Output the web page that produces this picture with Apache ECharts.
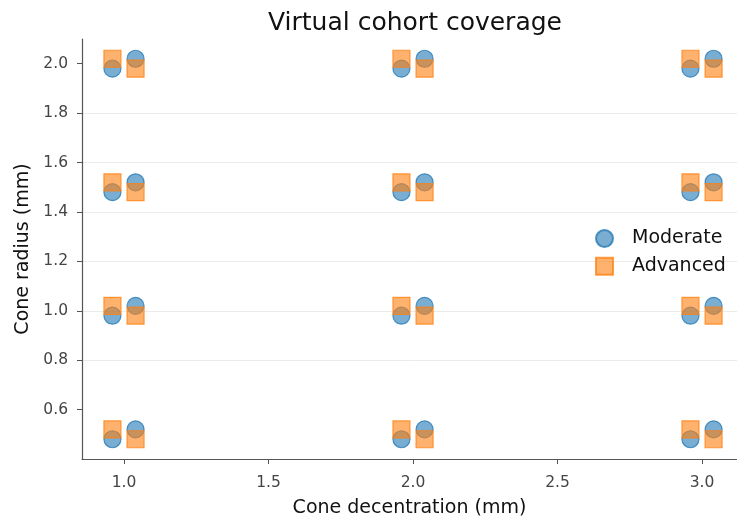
<!DOCTYPE html>
<html>
<head>
<meta charset="utf-8">
<script src="https://cdn.jsdelivr.net/npm/echarts@6/dist/echarts.min.js"></script>
<style>html,body{margin:0;padding:0;background:#fff}#c{width:737px;height:523px}</style>
</head>
<body>
<div id="c"></div>
<script>
const titleText = 'Virtual cohort coverage';
const xTitle = 'Cone decentration (mm)';
const yTitle = 'Cone radius (mm)';
const seriesNames = ['Moderate', 'Advanced'];
const xTicks = [1.0, 1.5, 2.0, 2.5, 3.0];
const yTicks = [0.6, 0.8, 1.0, 1.2, 1.4, 1.6, 1.8, 2.0];
const moderateX = [0.96, 1.04, 1.96, 2.04, 2.96, 3.04, 0.96, 1.04, 1.96, 2.04, 2.96, 3.04, 0.96, 1.04, 1.96, 2.04, 2.96, 3.04, 0.96, 1.04, 1.96, 2.04, 2.96, 3.04];
const moderateY = [0.48, 0.52, 0.48, 0.52, 0.48, 0.52, 0.98, 1.02, 0.98, 1.02, 0.98, 1.02, 1.48, 1.52, 1.48, 1.52, 1.48, 1.52, 1.98, 2.02, 1.98, 2.02, 1.98, 2.02];
const advancedX = [0.96, 1.04, 1.96, 2.04, 2.96, 3.04, 0.96, 1.04, 1.96, 2.04, 2.96, 3.04, 0.96, 1.04, 1.96, 2.04, 2.96, 3.04, 0.96, 1.04, 1.96, 2.04, 2.96, 3.04];
const advancedY = [0.52, 0.48, 0.52, 0.48, 0.52, 0.48, 1.02, 0.98, 1.02, 0.98, 1.02, 0.98, 1.52, 1.48, 1.52, 1.48, 1.52, 1.48, 2.02, 1.98, 2.02, 1.98, 2.02, 1.98];

const zip = (xs, ys) => xs.map((x, i) => [x, ys[i]]);
const FONT = 'DejaVu Sans';
const chart = echarts.init(document.getElementById('c'), null, {renderer: 'canvas'});
chart.setOption({
  animation: false,
  backgroundColor: '#fff',
  title: {
    text: titleText, left: 410, top: 6, textAlign: 'center',
    textStyle: {fontFamily: FONT, fontSize: 25, fontWeight: 'normal', color: '#111'}
  },
  legend: {
    left: 590, top: 224, orient: 'vertical', itemWidth: 17, itemHeight: 17, itemGap: 8.8,
    data: [{name: seriesNames[0], icon: 'circle'}, {name: seriesNames[1], icon: 'rect'}],
    textStyle: {fontFamily: FONT, fontSize: 19, color: '#111', padding: [0, 0, 0, 14]}
  },
  grid: {left: 82, right: 0, top: 39, bottom: 60},
  xAxis: {
    type: 'value', min: 0.8547, max: 3.121,
    name: xTitle, nameLocation: 'middle', nameGap: 40,
    nameTextStyle: {fontFamily: FONT, fontSize: 19, color: '#111'},
    axisLine: {show: true, lineStyle: {color: '#555', width: 1.2}},
    axisTick: {show: true, length: 5, lineStyle: {color: '#555'}, customValues: xTicks},
    axisLabel: {fontFamily: FONT, fontSize: 15.5, color: '#444', margin: 16, customValues: xTicks,
      formatter: v => v.toFixed(1)},
    splitLine: {show: false}
  },
  yAxis: {
    type: 'value', min: 0.4, max: 2.1, interval: 0.2,
    name: yTitle, nameLocation: 'middle', nameGap: 48,
    nameTextStyle: {fontFamily: FONT, fontSize: 19, color: '#111'},
    axisLine: {show: true, lineStyle: {color: '#555', width: 1.2}},
    axisTick: {show: true, length: 5, lineStyle: {color: '#555'}, customValues: yTicks},
    axisLabel: {fontFamily: FONT, fontSize: 15.5, color: '#444', margin: 14, customValues: yTicks,
      formatter: v => v.toFixed(1)},
    splitLine: {show: true, showMinLine: false, showMaxLine: false, lineStyle: {color: '#ebebeb', width: 1}}
  },
  series: [
    {
      name: seriesNames[0], type: 'scatter', symbol: 'circle', symbolSize: 17,
      data: zip(moderateX, moderateY),
      itemStyle: {color: 'rgba(31,119,180,0.75)', borderColor: 'rgba(31,119,180,0.95)', borderWidth: 1.2}
    },
    {
      name: seriesNames[1], type: 'scatter', symbol: 'rect', symbolSize: 17,
      data: zip(advancedX, advancedY),
      itemStyle: {color: 'rgba(255,127,14,0.75)', borderColor: 'rgba(255,127,14,0.95)', borderWidth: 1.2}
    }
  ]
});
</script>
</body>
</html>
